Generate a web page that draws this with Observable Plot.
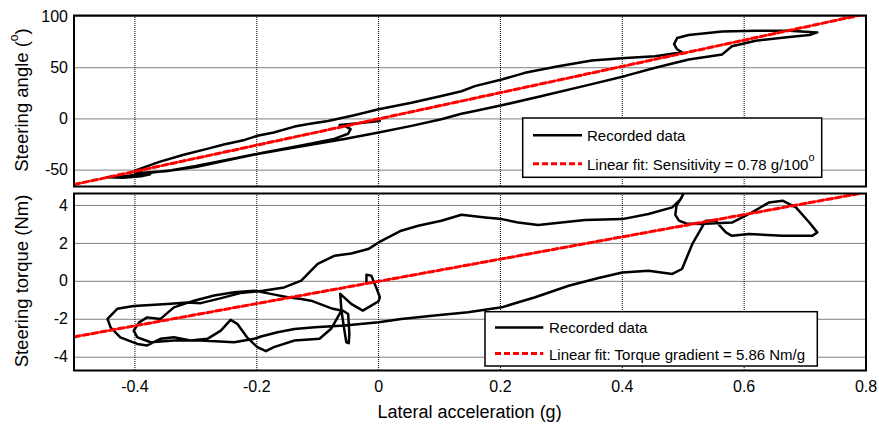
<!DOCTYPE html>
<html><head><meta charset="utf-8">
<script src="https://cdn.jsdelivr.net/npm/d3@7"></script>
<script src="https://cdn.jsdelivr.net/npm/@observablehq/plot@0.6"></script>
<style>
body{margin:0;background:#fff;}
#chart{position:relative;width:879px;height:424px;font-family:"Liberation Sans",Arial,sans-serif;}
#chart svg{position:absolute;left:0;}
</style></head><body><div id="chart"></div>
<script>
const xTicks = [-0.4, -0.2, 0, 0.2, 0.4, 0.6, 0.8];
const angleTicks = [-50, 0, 50, 100];
const torqueTicks = [-4, -2, 0, 2, 4];

// Recorded steering angle (deg) vs lateral acceleration (g)
const angleX = [0.002,-0.03,-0.064,-0.053,-0.046,-0.05,-0.073,-0.127,-0.19,-0.25,-0.30,-0.34,-0.38,-0.41,-0.445,-0.42,-0.39,-0.375,-0.39,
 -0.40,-0.36,-0.32,-0.28,-0.254,-0.22,-0.199,-0.172,-0.138,-0.11,-0.083,-0.04,0,0.054,0.103,0.136,0.158,0.202,0.24,0.295,0.35,0.405,0.454,0.498,0.49,0.485,0.49,0.509,0.564,0.619,0.674,0.72,
 0.707,0.674,0.619,0.58,0.564,0.509,0.454,0.405,0.35,0.268,0.202,0.158,0.136,0.103,0.054,0,-0.056,-0.138,-0.199,-0.254,-0.30,-0.35,-0.40];
const angleY = [-2,-4,-6,-7.5,-10,-14.5,-19.5,-26,-33,-40,-46,-50,-53,-55.5,-57,-57.5,-56,-54,-52,
 -50.5,-42,-35,-29,-25,-20.5,-16.5,-13.3,-7.5,-4.5,-2,3.5,9.4,15.8,22.3,27,32,38.5,45,51.5,57,59.5,61.2,65,68,73,79,82,85.4,86,86,84.5,
 82,80,76.4,71,63,58,50,42,34,22.3,13.3,7.8,5,-0.3,-6.8,-13.3,-19.7,-28,-34.3,-41,-47,-51,-53];

// Recorded steering torque (Nm) vs lateral acceleration (g)
const torqueX = [-0.059,-0.05,-0.048,-0.049,-0.053,-0.057,-0.061,-0.078,-0.097,-0.138,-0.172,-0.185,-0.199,-0.216,-0.232,-0.243,-0.259,-0.281,-0.309,-0.336,-0.358,-0.38,
 -0.396,-0.424,-0.44,-0.445,-0.429,-0.402,-0.347,-0.314,-0.292,-0.26,-0.227,-0.19,-0.155,-0.127,-0.1,-0.072,-0.045,-0.017,0,0.037,0.065,0.103,0.136,0.175,0.202,0.229,0.262,0.3,0.339,0.4,0.443,0.482,
 0.495,0.5,0.497,0.489,0.487,0.493,0.505,0.526,0.58,0.608,0.641,0.663,0.685,0.707,0.72,0.712,0.663,0.608,0.58,0.57,0.553,0.537,0.515,0.498,0.482,0.443,0.4,0.361,0.334,0.312,0.257,0.202,0.147,0.092,0.037,0,
 -0.056,-0.105,-0.138,-0.166,-0.193,-0.204,-0.237,-0.292,-0.336,-0.374,-0.396,-0.402,-0.393,-0.38,-0.358,-0.336,-0.303,-0.27,-0.237,-0.204,-0.171,-0.149,-0.127,-0.111,-0.075,-0.061,-0.063,-0.045,-0.026,-0.012,0,0.002,-0.004,-0.012,-0.02,-0.02];
const torqueY = [-1.54,-1.72,-2.77,-3.26,-3.21,-2.42,-1.54,-2.5,-3.03,-3.12,-3.47,-3.68,-3.47,-2.95,-2.24,-2.03,-2.6,-3.03,-3.12,-2.95,-3.03,-3.38,
 -3.3,-2.95,-2.42,-1.98,-1.45,-1.3,-1.19,-1.12,-1.15,-0.9,-0.62,-0.5,-0.32,0.04,0.92,1.35,1.47,1.7,2.05,2.67,2.93,3.19,3.51,3.37,3.28,3.1,2.97,3.1,3.23,3.28,3.55,3.9,
 4.3,4.6,4.4,4.0,3.5,3.2,3.05,3.02,3.1,3.55,4.16,4.25,3.9,3.1,2.58,2.4,2.4,2.5,2.4,2.58,3.19,3.2,1.97,0.65,0.39,0.56,0.47,0.18,-0.05,-0.23,-0.84,-1.37,-1.63,-1.8,-1.98,-2.16,
 -2.33,-2.42,-2.51,-2.68,-2.91,-3.03,-3.21,-3.12,-3.12,-3.21,-2.95,-2.6,-2.16,-1.9,-1.98,-1.37,-1.02,-0.75,-0.58,-0.49,-0.7,-0.84,-0.93,-1.02,-1.45,-1.54,-0.66,-1.19,-1.54,-1.28,-1.05,-0.84,-0.32,0.3,0.35,-0.05];

// Linear fits (end points over the x range)
const fitX = [-0.5, 0.8];
const fitAngleY = [-64.1, 102.6];   // Sensitivity = 0.78 g/100°
const fitTorqueY = [-2.93, 4.69];   // Torque gradient = 5.86 Nm/g

const legendTop = ["Recorded data", "Linear fit: Sensitivity = 0.78 g/100"];
const legendBottom = ["Recorded data", "Linear fit: Torque gradient = 5.86 Nm/g"];

const FONT = '"Liberation Sans", Arial, sans-serif';
const fmt = d => String(d);
const angleData = angleX.map((x, i) => ({x, y: angleY[i]}));
const torqueData = torqueX.map((x, i) => ({x, y: torqueY[i]}));
const fitA = fitX.map((x, i) => ({x, y: fitAngleY[i]}));
const fitT = fitX.map((x, i) => ({x, y: fitTorqueY[i]}));

const common = {
  width: 879, marginLeft: 73.5, marginRight: 13.5,
  style: {fontFamily: FONT, fontSize: "16px", color: "#000", background: "transparent", overflow: "visible"}
};
const gridStyle = {stroke: "#000", strokeOpacity: 1, strokeWidth: 1, strokeDasharray: "1,1"};

const topPlot = Plot.plot({
  ...common, height: 189, marginTop: 15, marginBottom: 3,
  x: {domain: [-0.5, 0.8], axis: null},
  y: {domain: [-66, 101]},
  marks: [
    Plot.gridX(xTicks, gridStyle),
    Plot.gridY(angleTicks, gridStyle),
    Plot.axisY(angleTicks, {tickSize: 0, tickPadding: 6, tickFormat: fmt, label: null, fontSize: 16}),
    Plot.line(angleData, {x: "x", y: "y", stroke: "#000", strokeWidth: 2.5, clip: true}),
    Plot.line(fitA, {x: "x", y: "y", stroke: "#ff0000", strokeWidth: 3, strokeDasharray: "6,3", clip: true}),
    Plot.frame({stroke: "#000", strokeWidth: 2})
  ]
});

const botPlot = Plot.plot({
  ...common, height: 235, marginTop: 4, marginBottom: 54,
  x: {domain: [-0.5, 0.8]},
  y: {domain: [-4.7, 4.63]},
  marks: [
    Plot.gridX(xTicks, gridStyle),
    Plot.gridY(torqueTicks, gridStyle),
    Plot.axisY(torqueTicks, {tickSize: 0, tickPadding: 6, tickFormat: fmt, label: null, fontSize: 16}),
    Plot.axisX(xTicks, {tickSize: 0, tickPadding: 10, tickFormat: fmt, label: null, fontSize: 16}),
    Plot.line(torqueData, {x: "x", y: "y", stroke: "#000", strokeWidth: 2.5, clip: true}),
    Plot.line(fitT, {x: "x", y: "y", stroke: "#ff0000", strokeWidth: 3, strokeDasharray: "6,3", clip: true}),
    Plot.frame({stroke: "#000", strokeWidth: 2})
  ]
});

const chart = document.getElementById("chart");
topPlot.style.top = "0px";
botPlot.style.top = "189px";
chart.appendChild(topPlot);
chart.appendChild(botPlot);

function yLabel(svg, cy, parts) {
  const t = d3.select(svg).append("text")
    .attr("transform", `translate(20.5,${cy}) rotate(-90)`)
    .attr("text-anchor", "middle").attr("dominant-baseline", "central")
    .attr("font-family", FONT).attr("font-size", 18.5).attr("fill", "#000");
  t.append("tspan").text(parts[0]);
  if (parts[1]) {
    t.append("tspan").attr("font-size", 12).attr("dy", -7).text(parts[1]);
    t.append("tspan").attr("dy", 7).text(parts[2]);
  }
}
yLabel(topPlot, 100, ["Steering angle (", "o", ")"]);
yLabel(botPlot, 281 - 189, ["Steering torque (Nm)"]);

d3.select(botPlot).append("text")
  .attr("x", 469.6).attr("y", 411.7 - 189)
  .attr("text-anchor", "middle").attr("dominant-baseline", "central")
  .attr("font-family", FONT).attr("font-size", 18).attr("fill", "#000")
  .text("Lateral acceleration (g)");

function legend(svg, x, y, w, h, rows, lx1, lx2, tx, sup) {
  const g = d3.select(svg).append("g").attr("font-family", FONT).attr("font-size", 15)
    .attr("text-anchor", "start");
  g.append("rect").attr("x", x).attr("y", y).attr("width", w).attr("height", h)
    .attr("fill", "#fff").attr("stroke", "#000").attr("stroke-width", 1.5);
  rows.forEach((r, i) => {
    const cy = y + (i === 0 ? 0.29 : 0.77) * h;
    g.append("line").attr("x1", lx1).attr("x2", lx2).attr("y1", cy).attr("y2", cy)
      .attr("stroke", i === 0 ? "#000" : "#ff0000").attr("stroke-width", i === 0 ? 2.5 : 3)
      .attr("stroke-dasharray", i === 0 ? null : "6,3");
    const t = g.append("text").attr("x", tx).attr("y", cy).attr("text-anchor", "start")
      .attr("dominant-baseline", "central").attr("fill", "#000");
    t.append("tspan").text(r);
    if (i === 1 && sup) t.append("tspan").attr("font-size", 11).attr("dy", -7).text("o");
  });
}
legend(topPlot, 522.7, 118, 299, 59.3, legendTop, 533, 582, 587, true);
legend(botPlot, 485, 311.7 - 189, 332.3, 54.3, legendBottom, 495, 543.3, 549, false);
</script></body></html>
